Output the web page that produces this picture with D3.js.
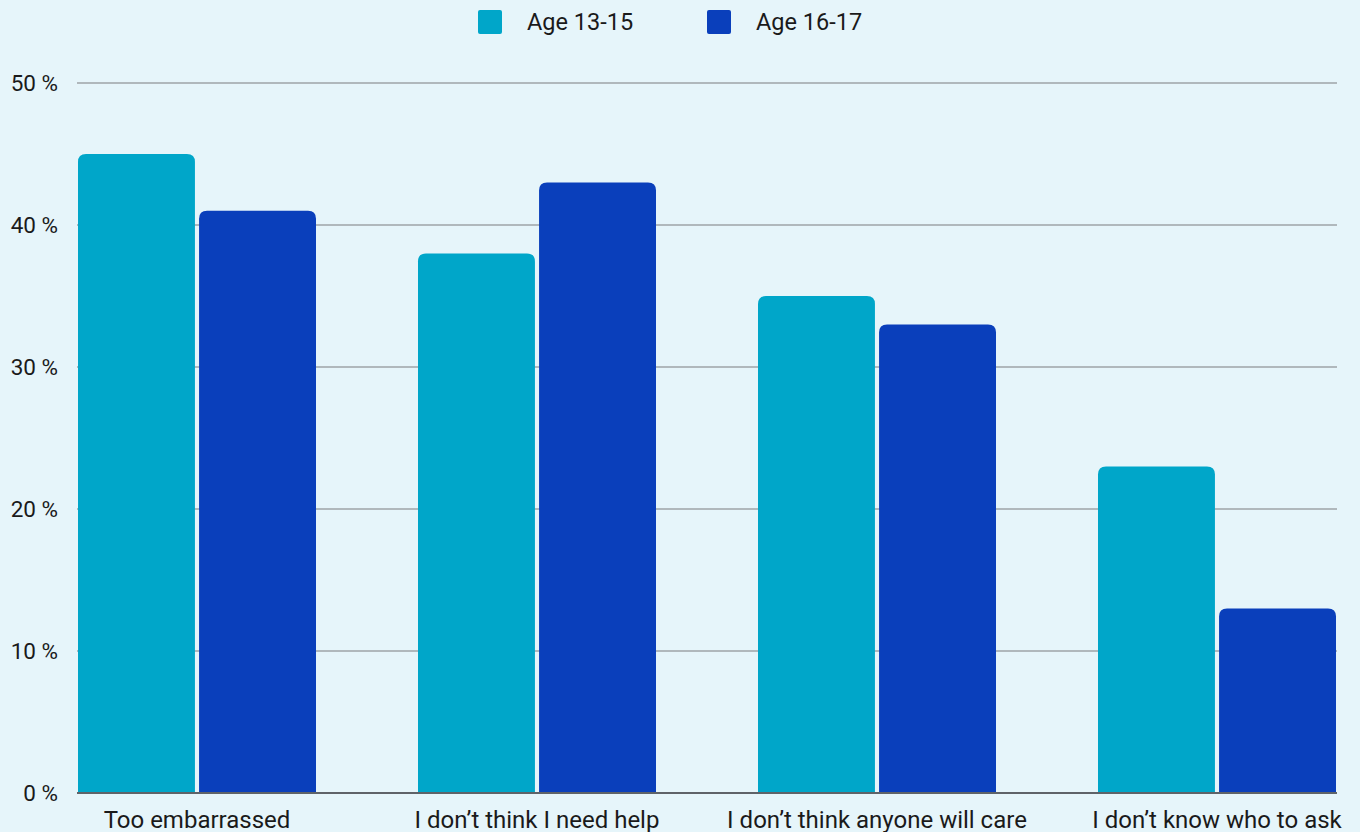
<!DOCTYPE html>
<html><head><meta charset="utf-8">
<script src="https://cdn.jsdelivr.net/npm/d3@7"></script>
<style>
html,body{margin:0;padding:0;background:#e6f5fa;}
svg{display:block;font-family:Roboto,"Noto Sans",sans-serif;}
</style></head><body>
<svg id="c" width="1360" height="832"></svg>
<script>
const categories = ["Too embarrassed","I don’t think I need help","I don’t think anyone will care","I don’t know who to ask"];
const seriesNames = ["Age 13-15","Age 16-17"];
const age1315 = [45,38,35,23];
const age1617 = [41,43,33,13];
const yTicks = [0,10,20,30,40,50];
const colors = ["#00a6c9","#0a3fbb"];

(function(){
const svg = d3.select("#c");
svg.append("rect").attr("width",1360).attr("height",832).attr("fill","#e6f5fa");
const mLeft=78, mRight=1336, mTop=83, mBottom=793;
const x = d3.scaleBand().domain(categories).range([mLeft,mRight]).paddingInner(0.3).paddingOuter(0);
const x1 = d3.scaleBand().domain(seriesNames).range([0,x.bandwidth()]).paddingInner(0.034);
const y = d3.scaleLinear().domain([0,50]).range([mBottom,mTop]);

svg.append("g").selectAll("line").data(yTicks.filter(d=>d>0)).join("line")
  .attr("x1",77).attr("x2",1337).attr("y1",d=>y(d)).attr("y2",d=>y(d))
  .attr("stroke","#b0b8bc").attr("stroke-width",2);
svg.append("g").selectAll("text").data(yTicks).join("text")
  .attr("x",58).attr("y",d=>y(d)).attr("dy","0.35em").attr("text-anchor","end")
  .attr("font-size",22.5).attr("fill","#1a1a1a").text(d=>d+" %");

const data = seriesNames.map((s,i)=>({name:s, values:[age1315,age1617][i], color:colors[i]}));
const r=8;
function barPath(x0,w,y0,yb){
  const rr=Math.min(r,(yb-y0)/2);
  return `M${x0},${yb}V${y0+rr}Q${x0},${y0} ${x0+rr},${y0}H${x0+w-rr}Q${x0+w},${y0} ${x0+w},${y0+rr}V${yb}Z`;
}
data.forEach(s=>{
  svg.append("g").selectAll("path").data(categories).join("path")
    .attr("d",(c,i)=>barPath(x(c)+x1(s.name),x1.bandwidth(),y(s.values[i]),y(0)))
    .attr("fill",s.color);
});
svg.append("line").attr("x1",77).attr("x2",1337).attr("y1",y(0)).attr("y2",y(0))
  .attr("stroke","#5f6368").attr("stroke-width",2);
svg.append("g").selectAll("text").data(categories).join("text")
  .attr("x",c=>x(c)+x.bandwidth()/2).attr("y",828).attr("text-anchor","middle")
  .attr("font-size",24).attr("fill","#1a1a1a").text(c=>c);
const legX=[478,707];
const lg = svg.append("g").selectAll("g").data(data).join("g")
  .attr("transform",(d,i)=>`translate(${legX[i]},10)`);
lg.append("rect").attr("width",24).attr("height",24).attr("rx",2).attr("fill",d=>d.color);
lg.append("text").attr("x",49).attr("y",12).attr("dy","0.35em").attr("font-size",23.5).attr("fill","#1a1a1a").text(d=>d.name);
})();
</script>
</body></html>
